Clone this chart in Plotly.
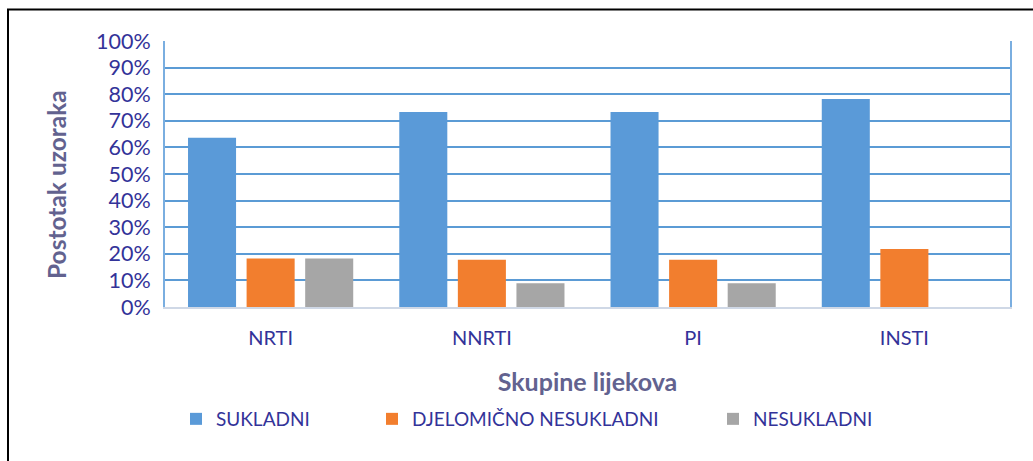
import plotly.graph_objects as go

categories = ["NRTI", "NNRTI", "PI", "INSTI"]
sukladni = [63.6, 73.3, 73.3, 78.2]
djelomicno = [18.2, 17.8, 17.8, 21.8]
nesukladni = [18.2, 8.9, 8.9, 0.0]
series_names = ["SUKLADNI", "DJELOMIČNO NESUKLADNI", "NESUKLADNI"]
tick_vals = [0, 10, 20, 30, 40, 50, 60, 70, 80, 90, 100]
tick_text = [f"{v}%" for v in tick_vals]

colors = ["#5a9ad8", "#f27e2e", "#a6a6a6"]
text_color = "#333399"
title_color = "#62628f"
font_family = "Lato, 'Open Sans', sans-serif"

W, H = 1033, 461
ml, mr, mt, mb = 165, 23, 41, 154
pw, ph = W - ml - mr, H - mt - mb

fig = go.Figure()
legend_ids = ["legend", "legend2", "legend3"]
for name, vals, col, lid in zip(series_names, [sukladni, djelomicno, nesukladni], colors, legend_ids):
    fig.add_trace(go.Bar(x=categories, y=vals, name=name, marker=dict(color=col, line=dict(width=0)),
                         legend=lid))

def px_to_paper_x(px):
    return (px - ml) / pw

def px_to_paper_y(py):
    return (H - mb - py) / ph

legend_x_px = [176, 372, 713]
legend_common = dict(orientation="h", yanchor="middle", xanchor="left",
                     font=dict(family=font_family, size=19, color=text_color),
                     bgcolor="rgba(0,0,0,0)", itemwidth=30)
fig.update_layout(
    legend=dict(x=px_to_paper_x(legend_x_px[0]), y=px_to_paper_y(419), **legend_common),
    legend2=dict(x=px_to_paper_x(legend_x_px[1]), y=px_to_paper_y(419), **legend_common),
    legend3=dict(x=px_to_paper_x(legend_x_px[2]), y=px_to_paper_y(419), **legend_common),
)

fig.update_layout(
    width=W, height=H,
    margin=dict(l=ml, r=mr, t=mt, b=mb, autoexpand=False),
    paper_bgcolor="white", plot_bgcolor="white",
    barmode="group", bargap=0.168, bargroupgap=0.18,
    font=dict(family=font_family, color=text_color),
    showlegend=True,
    xaxis=dict(
        showline=True, linecolor="#cfd8e6", linewidth=2,
        tickfont=dict(size=20, color=text_color),
        ticks="", ticklabelstandoff=12,
        title=dict(text="Skupine lijekova", font=dict(size=25, color=title_color, weight="bold"), standoff=25),
    ),
    yaxis=dict(
        range=[0, 100], tickvals=tick_vals, ticktext=tick_text,
        tickfont=dict(size=21.5, color=text_color),
        showgrid=True, gridcolor="#5b9bd5", gridwidth=2,
        showline=True, linecolor="#7aaee0", linewidth=2, mirror=True,
        zeroline=False, ticks="", ticklabelstandoff=8,
    ),
)

fig.add_annotation(text="<b>Postotak uzoraka</b>", textangle=-90, xref="paper", yref="paper",
                   x=px_to_paper_x(56), y=px_to_paper_y(184), xanchor="center", yanchor="middle",
                   showarrow=False, font=dict(family=font_family, size=24.5, color=title_color))

fig.add_shape(type="rect", xref="paper", yref="paper",
              x0=px_to_paper_x(8), x1=px_to_paper_x(1060),
              y0=px_to_paper_y(480), y1=px_to_paper_y(9.5),
              line=dict(color="black", width=2), fillcolor="rgba(0,0,0,0)", layer="above")

fig.write_html("out.html", config={"displayModeBar": False},
               post_script="document.body.style.margin='0';document.body.style.overflow='hidden';")
